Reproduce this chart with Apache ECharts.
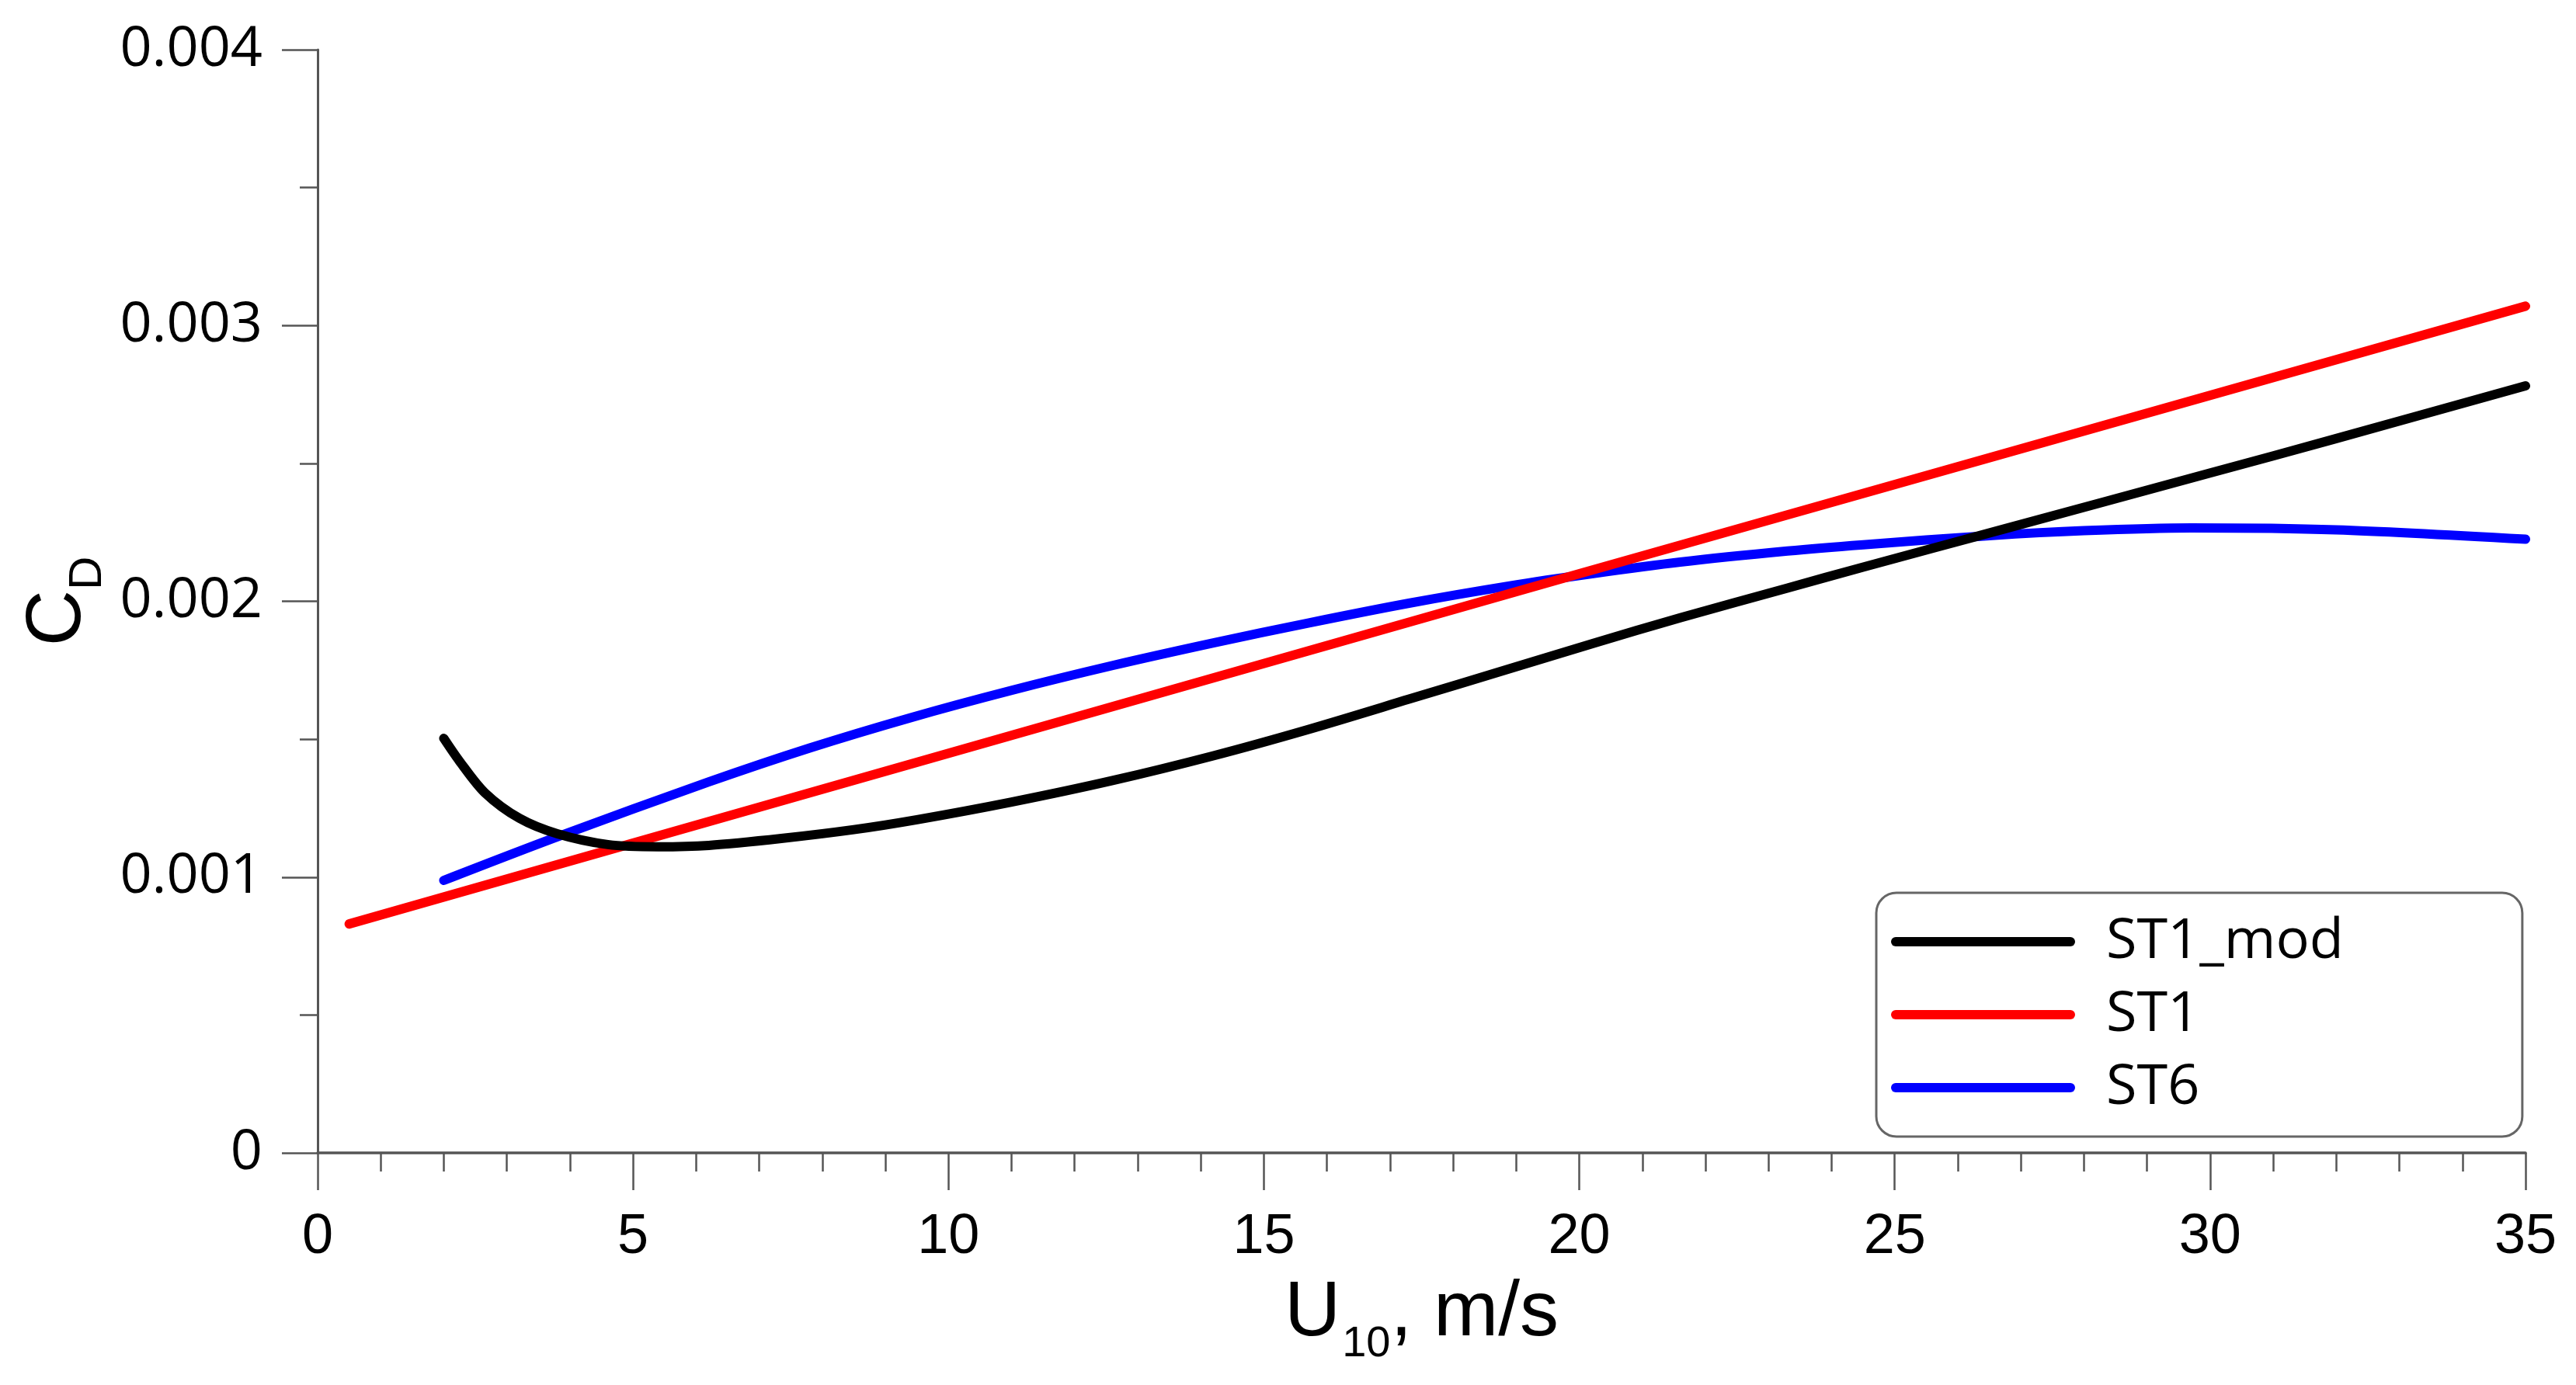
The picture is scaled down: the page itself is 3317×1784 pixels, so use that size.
<!DOCTYPE html>
<html>
<head>
<meta charset="utf-8">
<script src="https://cdn.jsdelivr.net/npm/echarts@6/dist/echarts.min.js"></script>
<style>
	html, body { margin: 0; padding: 0; background: #fff; }
	#chart { width: 3317px; height: 1784px; }
</style>
</head>
<body>
<div id="chart"></div>
<script>
// wind speed U10 (m/s) and drag coefficient CD
var st1modU = [2.0, 2.25, 2.65, 3.2, 3.8, 4.6, 5.4, 6.2, 7.35, 8.5, 9.5, 11.0, 12.6, 14.2, 15.7, 17.3, 18.9, 20.2, 21.6, 23.3, 24.5, 26.7, 30, 32, 35];
var st1modCd = [0.001503, 0.00142, 0.001306, 0.001213, 0.001157, 0.001118, 0.001110, 0.001115, 0.00114, 0.001172, 0.001208, 0.001272, 0.00135, 0.00144, 0.001535, 0.001645, 0.001756, 0.001846, 0.00194, 0.002048, 0.002124, 0.00226, 0.002465, 0.00259, 0.002781];

var st1U = [0.5, 20, 35];
var st1Cd = [0.00083, 0.00210, 0.00307];

var st6U = [2.0, 3.8, 6.2, 7.8, 9.4, 11.0, 12.6, 14.2, 15.7, 17.3, 18.9, 20.2, 21.6, 23.3, 24.5, 26.5, 28, 29.7, 32, 35];
var st6Cd = [0.000988, 0.001146, 0.001345, 0.001468, 0.001578, 0.001677, 0.001767, 0.001849, 0.001921, 0.001993, 0.002056, 0.0021, 0.002142, 0.002182, 0.002205, 0.002238, 0.002256, 0.002266, 0.002259, 0.002225];

var seriesNames = ['ST1_mod', 'ST1', 'ST6'];
var seriesColors = ['#000000', '#ff0000', '#0000ff'];
var seriesSmooth = [0.3, false, 0.3];

var xTicks = { min: 0, max: 35, interval: 5 };
var yTicks = { min: 0, max: 0.004, interval: 0.001 };

var pairs = (xs, ys) => xs.map((x, i) => [x, ys[i]]);

var allData = [
	pairs(st1modU, st1modCd),
	pairs(st1U, st1Cd),
	pairs(st6U, st6Cd)
];

var myChart = echarts.init(document.getElementById('chart'));

var axisGrey = '#555555';

var option = {
	backgroundColor: '#ffffff',
	animation: false,
	grid: {
		left: 409,
		right: 65,
		top: 64,
		bottom: 299,
		containLabel: false,
		outerBoundsMode: 'none'
	},
	legend: {
		orient: 'vertical',
		left: 2416,
		top: 1150,
		padding: [23, 230, 23, 19],
		itemWidth: 237,
		itemHeight: 12,
		itemGap: 14,
		icon: 'path://M6 0H231A6 6 0 0 1 231 12H6A6 6 0 0 1 6 0Z',
		backgroundColor: '#ffffff',
		borderColor: '#666666',
		borderWidth: 3,
		borderRadius: 26,
		itemStyle: { borderWidth: 0 },
		selectedMode: false,
		textStyle: {
			fontFamily: 'Open Sans',
			fontSize: 72,
			lineHeight: 80,
			color: '#000',
			padding: [0, 0, 0, 35]
		},
		data: seriesNames
	},
	xAxis: {
		type: 'value',
		min: xTicks.min,
		max: xTicks.max,
		interval: xTicks.interval,
		name: '{m|U}{s|10}{m|, m/s}',
		nameLocation: 'middle',
		nameGap: 157,
		nameTextStyle: {
			rich: {
				m: { fontFamily: 'Liberation Sans', fontSize: 100, lineHeight: 100, verticalAlign: 'top', color: '#000' },
				s: { fontFamily: 'Liberation Sans', fontSize: 56, lineHeight: 56, verticalAlign: 'top', padding: [62, 0, 0, 2], color: '#000' }
			}
		},
		splitLine: { show: false },
		axisLine: { onZero: false, lineStyle: { color: axisGrey, width: 3.5 } },
		axisTick: { length: 48, lineStyle: { color: axisGrey, width: 2.5 } },
		minorTick: { show: true, splitNumber: 5, length: 24, lineStyle: { color: axisGrey, width: 2.5 } },
		axisLabel: {
			margin: 73,
			fontFamily: 'Liberation Sans',
			fontSize: 72,
			lineHeight: 72,
			color: '#000'
		}
	},
	yAxis: {
		type: 'value',
		min: yTicks.min,
		max: yTicks.max,
		interval: yTicks.interval,
		name: '{m|C}{s|D}',
		nameLocation: 'middle',
		nameRotate: 90,
		nameGap: 268,
		nameTextStyle: {
			rich: {
				m: { fontFamily: 'Liberation Sans', fontSize: 100, lineHeight: 100, verticalAlign: 'top', color: '#000' },
				s: { fontFamily: 'Liberation Sans', fontSize: 60, lineHeight: 60, verticalAlign: 'top', padding: [58, 0, 0, 0], color: '#000' }
			}
		},
		splitLine: { show: false },
		axisLine: { show: true, onZero: false, lineStyle: { color: axisGrey, width: 3 } },
		axisTick: { show: true, length: 46, lineStyle: { color: axisGrey, width: 2.5 } },
		minorTick: { show: true, splitNumber: 2, length: 23, lineStyle: { color: axisGrey, width: 2.5 } },
		axisLabel: {
			margin: 71,
			fontFamily: 'Open Sans',
			fontSize: 72,
			color: '#000',
			formatter: function(v) {
				return v === 0 ? '0' : v.toFixed(3);
			}
		}
	},
	series: seriesNames.map((name, i) => {
		return {
			name: name,
			type: 'line',
			data: allData[i],
			smooth: seriesSmooth[i],
			showSymbol: false,
			symbol: 'none',
			z: 3 - i,
			itemStyle: { color: seriesColors[i] },
			lineStyle: { color: seriesColors[i], width: 12, cap: 'round', join: 'round' }
		};
	})
};

myChart.setOption(option);
</script>
</body>
</html>
